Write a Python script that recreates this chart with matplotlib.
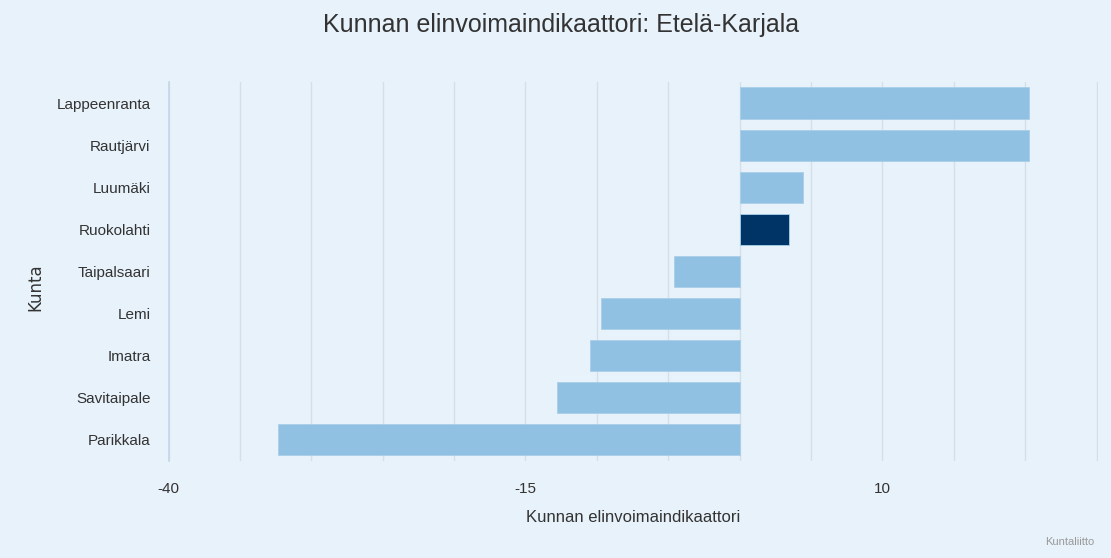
import matplotlib.pyplot as plt
import numpy as np

kunnat = ['Lappeenranta', 'Rautjärvi', 'Luumäki', 'Ruokolahti', 'Taipalsaari',
          'Lemi', 'Imatra', 'Savitaipale', 'Parikkala']
arvot = [20.3, 20.3, 4.45, 3.45, -4.6, -9.7, -10.5, -12.8, -32.35]
korostus = 'Ruokolahti'
tick_vals = [-40, -15, 10]

bg = '#e8f2fb'
light = '#91c1e2'
dark = '#003366'
narrow = ['Liberation Sans', 'DejaVu Sans']

fig = plt.figure(figsize=(11.11, 5.58), dpi=100, facecolor=bg)
ax = fig.add_axes([0.1517, 0.174, 0.8366, 0.679])
ax.set_facecolor(bg)

y = np.arange(len(kunnat))
colors = [dark if k == korostus else light for k in kunnat]
ax.barh(y, arvot, height=0.74, color=colors, edgecolor='#a9cfe9', linewidth=0.6,
        zorder=3)
ax.set_ylim(len(kunnat) - 0.5, -0.5)
ax.set_xlim(-40, 25.1)

grid = np.arange(-40, 26, 5)
ax.set_xticks(grid)
ax.set_xticklabels([str(v) if v in tick_vals else '' for v in grid],
                   family=narrow, fontsize=11, color='#333333')
ax.xaxis.grid(True, color='#d5dfe8', linewidth=1, zorder=0)
ax.tick_params(axis='x', length=0, pad=15)
ax.set_yticks(y)
ax.set_yticklabels(kunnat, family=narrow, fontsize=11, color='#333333')
ax.tick_params(axis='y', length=0, pad=13)

for s in ['top', 'right', 'bottom']:
  ax.spines[s].set_visible(False)
ax.spines['left'].set_color('#c2d6ea')
ax.spines['left'].set_linewidth(1.2)

ax.set_xlabel('Kunnan elinvoimaindikaattori', family=narrow, fontsize=12,
              color='#333333', labelpad=10)
fig.text(0.032, 0.485, 'Kunta', rotation=90, ha='center', va='center',
         fontsize=12, color='#333333', family='DejaVu Sans')
fig.text(0.505, 0.955, 'Kunnan elinvoimaindikaattori: Etelä-Karjala',
         ha='center', va='center', family=narrow, fontsize=18, color='#333333')
fig.text(0.985, 0.02, 'Kuntaliitto', ha='right', va='bottom', family=narrow,
         fontsize=8, color='#999999')

fig.savefig('out.png', dpi=100, facecolor=bg)
